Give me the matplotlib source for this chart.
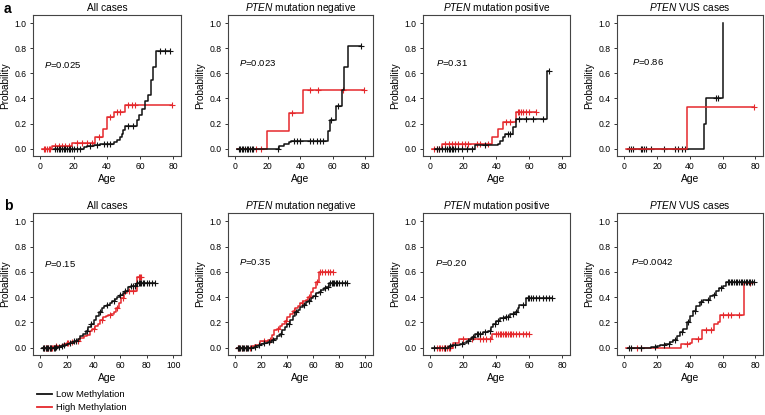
import numpy as np
import matplotlib
matplotlib.use("Agg")
import matplotlib.pyplot as plt
from matplotlib.lines import Line2D

plt.rcParams['font.family'] = ['Liberation Sans', 'DejaVu Sans']
plt.rcParams['mathtext.fontset'] = 'custom'
plt.rcParams['mathtext.rm'] = 'Liberation Sans'
plt.rcParams['mathtext.it'] = 'Liberation Sans:italic'

# ---------------- data ----------------
titles = [r'All cases', r'$\it{PTEN}$ mutation negative', r'$\it{PTEN}$ mutation positive', r'$\it{PTEN}$ VUS cases']
pvals_a = ['0.025', '0.023', '0.31', '0.86']
pvals_b = ['0.15', '0.35', '0.20', '0.0042']
legend_labels = ['Low Methylation', 'High Methylation']

# Row a
a1_low_t = [8, 26, 28, 32, 36, 44, 46, 48, 49, 50, 51, 58, 59.5, 61, 63, 65, 66.5, 68, 69.5]
a1_low_p = [0, 0.01, 0.02, 0.03, 0.04, 0.05, 0.07, 0.09, 0.12, 0.15, 0.18, 0.23, 0.27, 0.32, 0.38, 0.43, 0.55, 0.65, 0.78]
a1_low_c = [9, 10, 11, 12, 13, 14, 15, 16, 17, 18, 19, 20, 22, 24, 30, 34, 38, 40, 42, 53, 56, 72, 75, 78]
a1_high_t = [1, 7, 19, 33, 37.5, 40, 44, 51]
a1_high_p = [0, 0.02, 0.045, 0.09, 0.16, 0.25, 0.29, 0.345]
a1_high_c = [2, 3, 4, 5, 6, 9, 11, 13, 15, 17, 22, 25, 28, 31, 35, 42, 46, 48, 53, 55, 57, 79]

a2_low_t = [1, 27, 30, 33, 34, 57, 58, 62, 65.5, 67, 69.5]
a2_low_p = [0, 0.024, 0.035, 0.05, 0.065, 0.14, 0.23, 0.34, 0.47, 0.65, 0.82]
a2_low_c = [2, 3, 4, 5, 6, 7, 8, 9, 10, 11, 26, 36, 38, 40, 46, 48, 50, 52, 54, 59, 63, 77]
a2_high_t = [1, 19.5, 33, 41.5]
a2_high_p = [0, 0.14, 0.285, 0.465]
a2_high_c = [13, 16, 35, 46, 51, 66, 79]

a3_low_t = [3, 27, 41, 42.5, 44, 45.5, 50, 52, 70.5]
a3_low_p = [0, 0.027, 0.035, 0.06, 0.09, 0.12, 0.175, 0.24, 0.62]
a3_low_c = [4, 5, 7, 9, 10, 11, 12, 13, 14, 15, 17, 19, 22, 25, 33, 47, 48, 54, 58, 62, 68, 72]
a3_high_t = [1, 7, 37.5, 41, 44, 52]
a3_high_p = [0, 0.035, 0.096, 0.155, 0.21, 0.29]
a3_high_c = [2, 4, 5, 9, 11, 13, 15, 17, 19, 21, 23, 28, 30, 35, 46, 48, 53, 54, 55, 56, 58, 60, 64]

a4_low_t = [2, 48.5, 50, 60.5]
a4_low_p = [0, 0.2, 0.4, 1.0]
a4_low_c = [3, 4, 5, 10, 11, 12, 13, 16, 24, 31, 33, 35, 37, 56, 57]
a4_high_t = [1, 38]
a4_high_p = [0, 0.333]
a4_high_c = [79]

# Row b
b1_low_t = [1, 12, 15, 18, 20, 22, 25, 28, 30, 32, 34, 36, 38, 40, 42, 44, 46, 48, 50, 52, 54, 56, 58, 60, 62, 64, 66, 68, 72.5]
b1_low_p = [0, 0.005, 0.01, 0.02, 0.03, 0.04, 0.05, 0.07, 0.09, 0.11, 0.13, 0.16, 0.19, 0.22, 0.25, 0.28, 0.31, 0.33, 0.34, 0.355, 0.37, 0.385, 0.40, 0.42, 0.435, 0.45, 0.48, 0.485, 0.51]
b1_low_c = [2, 3, 4, 5, 6, 7, 8, 10, 11, 12, 14, 16, 18, 22, 25, 27, 35, 38, 45, 50, 55, 60, 64, 68, 70, 71, 73, 74, 75, 76, 77, 78, 80, 82, 84, 86]
b1_high_t = [2, 10, 16, 18, 20, 23, 26, 30, 33, 35, 37, 39, 41, 43, 45, 47, 49, 51, 53, 55, 57, 59, 61, 63, 65, 73]
b1_high_p = [0, 0.01, 0.02, 0.03, 0.04, 0.045, 0.055, 0.08, 0.09, 0.10, 0.13, 0.15, 0.17, 0.19, 0.22, 0.24, 0.25, 0.26, 0.27, 0.28, 0.31, 0.35, 0.39, 0.43, 0.45, 0.56]
b1_high_c = [3, 4, 5, 6, 7, 8, 9, 12, 20, 21, 24, 28, 40, 46, 52, 58, 62, 67, 70, 74, 75, 76]

b2_low_t = [1, 14, 16, 18, 20, 22, 25, 28, 30, 32, 34, 36, 38, 40, 42, 44, 46, 48, 50, 52, 54, 56, 58, 60, 62, 64, 66, 68, 70, 72]
b2_low_p = [0, 0.005, 0.01, 0.02, 0.03, 0.035, 0.045, 0.06, 0.07, 0.09, 0.11, 0.14, 0.165, 0.19, 0.22, 0.25, 0.28, 0.30, 0.32, 0.34, 0.36, 0.37, 0.39, 0.41, 0.43, 0.44, 0.46, 0.47, 0.48, 0.51]
b2_low_c = [2, 3, 4, 5, 6, 7, 8, 9, 10, 12, 15, 18, 22, 26, 29, 35, 41, 47, 53, 57, 61, 65, 69, 71, 73, 74, 75, 76, 77, 78, 80, 82, 84, 86]
b2_high_t = [1, 13, 15, 19, 25, 28, 30, 32, 34, 36, 38, 40, 42, 44, 46, 48, 50, 52, 54, 56, 58, 60, 62, 64]
b2_high_p = [0, 0.01, 0.02, 0.05, 0.06, 0.10, 0.14, 0.15, 0.17, 0.19, 0.21, 0.24, 0.27, 0.29, 0.31, 0.33, 0.35, 0.37, 0.38, 0.40, 0.44, 0.47, 0.52, 0.60]
b2_high_c = [2, 3, 5, 8, 11, 22, 27, 33, 39, 45, 51, 57, 63, 65, 67, 69, 71, 73, 75]

b3_low_t = [1, 11, 13, 18, 20, 22, 24, 25, 27, 32, 35, 37, 38, 40, 42, 45, 48, 51, 53, 54, 58]
b3_low_p = [0, 0.01, 0.02, 0.03, 0.04, 0.055, 0.07, 0.085, 0.11, 0.12, 0.13, 0.16, 0.19, 0.21, 0.235, 0.245, 0.27, 0.285, 0.31, 0.34, 0.39]
b3_low_c = [2, 9, 12, 15, 19, 23, 26, 28, 29, 30, 33, 36, 39, 41, 44, 46, 47, 50, 52, 56, 59, 60, 61, 62, 64, 66, 68, 70, 72, 74]
b3_high_t = [3, 14, 17.5, 37.5]
b3_high_p = [0, 0.035, 0.065, 0.11]
b3_high_c = [4, 5, 6, 7, 8, 9, 10, 11, 12, 20, 25, 30, 32, 34, 36, 40, 41, 42, 43, 44, 45, 46, 47, 48, 49, 50, 52, 54, 56, 58, 60]

b4_low_t = [2, 16, 18, 20, 22, 25, 28, 30, 32, 34, 36, 38, 40, 42, 44, 46, 48, 50, 52, 54, 56, 58, 60, 62]
b4_low_p = [0, 0.005, 0.008, 0.01, 0.02, 0.03, 0.045, 0.06, 0.09, 0.12, 0.15, 0.2, 0.25, 0.29, 0.33, 0.36, 0.375, 0.38, 0.41, 0.42, 0.45, 0.47, 0.49, 0.52]
b4_low_c = [3, 4, 10, 19, 24, 27, 31, 35, 39, 43, 47, 51, 55, 59, 63, 64, 65, 66, 67, 68, 69, 70, 71, 72, 73, 74, 75, 76, 77, 78, 79]
b4_high_t = [1, 34.5, 40, 41.5, 47.5, 55, 57, 58.5, 73]
b4_high_p = [0, 0.03, 0.04, 0.065, 0.14, 0.19, 0.2, 0.26, 0.51]
b4_high_c = [8, 10, 38, 45, 50, 53, 60, 63, 65, 70, 77]

xticks_80 = [0, 20, 40, 60, 80]
xticks_100 = [0, 20, 40, 60, 80, 100]
yticks = [0.0, 0.2, 0.4, 0.6, 0.8, 1.0]

# ---------------- drawing ----------------
BLACK = '#111111'
RED = '#e5282c'
W, H = 765, 415
fig = plt.figure(figsize=(W / 100, H / 100), dpi=100)


def px_axes(l, t, r, b):
    return fig.add_axes([l / W, 1 - b / H, (r - l) / W, (b - t) / H])


def km(ax, t, p, c, color, z):
    tmax = max([t[-1]] + list(c))
    x = list(t) + [tmax]
    y = list(p) + [p[-1]]
    ax.step(x, y, where='post', color=color, lw=1.1, zorder=z)
    idx = np.clip(np.searchsorted(t, c, side='right') - 1, 0, None)
    cy = np.asarray(p)[idx]
    ax.plot(c, cy, ls='none', marker='+', ms=3.8, mew=0.8, color=color, zorder=z)


cols = [(33, 181), (228, 373), (423, 570), (617, 763)]
rows = [(15, 156), (213, 355)]

rowdata = [
    [(a1_low_t, a1_low_p, a1_low_c, a1_high_t, a1_high_p, a1_high_c),
     (a2_low_t, a2_low_p, a2_low_c, a2_high_t, a2_high_p, a2_high_c),
     (a3_low_t, a3_low_p, a3_low_c, a3_high_t, a3_high_p, a3_high_c),
     (a4_low_t, a4_low_p, a4_low_c, a4_high_t, a4_high_p, a4_high_c)],
    [(b1_low_t, b1_low_p, b1_low_c, b1_high_t, b1_high_p, b1_high_c),
     (b2_low_t, b2_low_p, b2_low_c, b2_high_t, b2_high_p, b2_high_c),
     (b3_low_t, b3_low_p, b3_low_c, b3_high_t, b3_high_p, b3_high_c),
     (b4_low_t, b4_low_p, b4_low_c, b4_high_t, b4_high_p, b4_high_c)],
]
pvals = [pvals_a, pvals_b]
xt = [[xticks_80] * 4, [xticks_100, xticks_100, xticks_80, xticks_80]]
ptext_pos = [[(2, 0.67), (2, 0.68), (3.6, 0.68), (4.6, 0.69)],
             [(2.5, 0.66), (2.5, 0.675), (3, 0.67), (4.3, 0.68)]]

for r, (top, bot) in enumerate(rows):
    for c, (left, right) in enumerate(cols):
        ax = px_axes(left, top, right, bot)
        lt, lp, lc, ht, hp, hc = rowdata[r][c]
        red_top = (r == 0 and c == 3)
        km(ax, lt, lp, lc, BLACK, 3 if not red_top else 2)
        km(ax, ht, hp, hc, RED, 2 if not red_top else 3)
        ticks = xt[r][c]
        ax.set_xticks(ticks)
        ax.set_yticks(yticks)
        ax.set_yticklabels(['%.1f' % v for v in yticks])
        span = ticks[-1]
        ax.set_xlim(-0.056 * span, span * 1.058)
        ax.set_ylim(-0.058, 1.065)
        ax.tick_params(labelsize=6.2, length=2.5, width=0.7, pad=2, color='#333333')
        for s in ax.spines.values():
            s.set_linewidth(0.8)
            s.set_color('#444444')
        ax.set_title(titles[c], fontsize=7.3, pad=3)
        ax.set_xlabel('Age', fontsize=7.4, labelpad=2)
        ax.set_ylabel('Probability', fontsize=7.2, labelpad=3)
        px, py = ptext_pos[r][c]
        ax.text(px, py, r'$\it{P}$=' + pvals[r][c], fontsize=6.8, va='center', ha='left')

fig.text(4 / W, 1 - 9 / H, 'a', fontsize=10, fontweight='bold', va='center', ha='left')
fig.text(4 / W, 1 - 206 / H, 'b', fontsize=10, fontweight='bold', va='center', ha='left')

handles = [Line2D([], [], color=BLACK, lw=1.3), Line2D([], [], color=RED, lw=1.3)]
fig.legend(handles, legend_labels, loc='upper left', bbox_to_anchor=(37 / W, 1 - 390 / H),
           frameon=False, fontsize=6.8, handlelength=1.6, handletextpad=0.4,
           labelspacing=0.45, borderpad=0, borderaxespad=0)

fig.savefig('out.png', dpi=100)
